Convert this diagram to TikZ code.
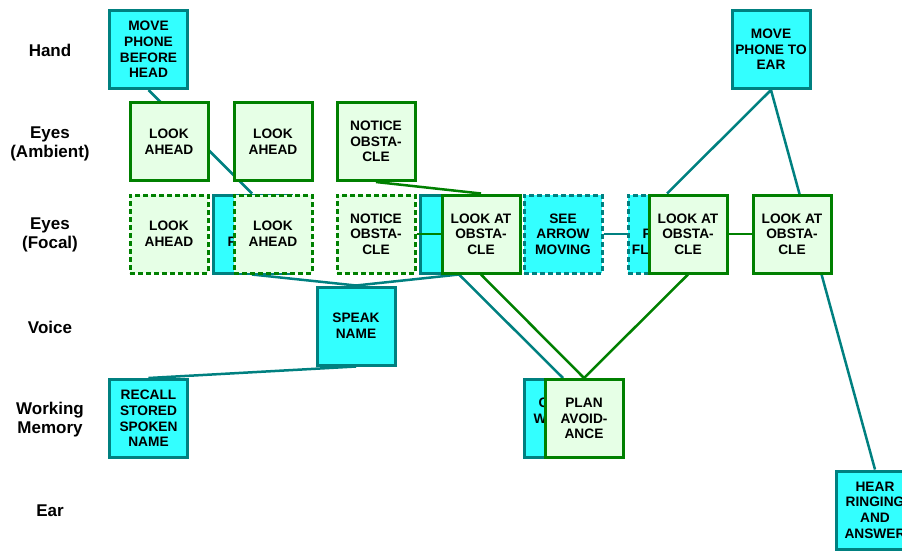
\documentclass[tikz,border=0pt]{standalone}
\usepackage{fontspec}
\setmainfont{Liberation Sans}
\usetikzlibrary{backgrounds}
\definecolor{opcyan}{RGB}{51,255,255}
\definecolor{opteal}{RGB}{0,128,128}
\definecolor{opgreen}{RGB}{0,128,0}
\definecolor{oppale}{RGB}{230,255,230}

\begin{document}
\begin{tikzpicture}[x=1pt, y=-1pt,
    op/.style={draw, line width=3pt, minimum width=78pt, minimum height=78pt,
      inner sep=1pt, align=center, font=\bfseries\fontsize{13.7}{15.6}\selectfont},
    motor/.style={op, draw=opteal, fill=opcyan},
    percept/.style={op, draw=opgreen, fill=oppale},
    slack/.style={dash pattern=on 5pt off 3pt},
    row/.style={align=center, font=\bfseries\fontsize{17}{19}\selectfont},
    tealline/.style={draw=opteal, line width=2.5pt},
    greenline/.style={draw=opgreen, line width=2.5pt}]
    \clip (0,0) rectangle (902,550);

    % Row labels
    \node[row] (lhand) at (50,50) {Hand};
    \node[row] (lamb) at (50,144) {Eyes\\(Ambient)};
    \node[row] (lfoc) at (50,235) {Eyes\\(Focal)};
    \node[row] (lvoice) at (50,327) {Voice};
    \node[row] (lmem) at (50,420) {Working\\Memory};
    \node[row] (lear) at (50,511) {Ear};

    % Hand
    \node[motor] (hand1) at (148.5,49.5) {MOVE\\PHONE\\BEFORE\\HEAD};
    \node[motor] (hand2) at (771,49.5) {MOVE\\PHONE TO\\EAR};

    % Eyes (ambient)
    \node[percept] (amb1) at (169,141.5) {LOOK\\AHEAD};
    \node[percept] (amb2) at (273,141.5) {LOOK\\AHEAD};
    \node[percept] (amb3) at (376,141.5) {NOTICE\\OBSTA-\\CLE};

    % Eyes (focal)
    \node[percept, slack] (foc1) at (169,234) {LOOK\\AHEAD};
    \node[motor] (seephone) at (252,234) {SEE\\PHONE};
    \node[percept, slack] (foc2) at (273,234) {LOOK\\AHEAD};
    \node[percept, slack] (foc3) at (376,234) {NOTICE\\OBSTA-\\CLE};
    \node[motor] (seename) at (459,234) {};
    \node[percept] (obst1) at (481,234) {LOOK AT\\OBSTA-\\CLE};
    \node[motor, slack] (arrow) at (563,234) {SEE\\ARROW\\MOVING};
    \node[motor, slack] (flash) at (667,234) {SEE\\PHONE\\FLASHING};
    \node[percept] (obst2) at (688,234) {LOOK AT\\OBSTA-\\CLE};
    \node[percept] (obst3) at (792,234) {LOOK AT\\OBSTA-\\CLE};

    % Voice
    \node[motor] (speak) at (356,326) {SPEAK\\NAME};

    % Working memory
    \node[motor] (recall) at (148.5,418.5) {RECALL\\STORED\\SPOKEN\\NAME};
    \node[motor] (check) at (563,418.5) {CHECK\\WAITING\\CALL};
    \node[percept] (plan) at (584,418.5) {PLAN\\AVOID-\\ANCE};

    % Ear
    \node[motor] (hear) at (875,510) {HEAR\\RINGING\\AND\\ANSWER};

    % Dependencies
    \begin{scope}[on background layer]
      \draw[tealline] (hand1.south) -- (seephone.north);
      \draw[tealline] (seephone.south) -- (speak.north) -- (seename.south);
      \draw[tealline] (speak.south) -- (recall.north);
      \draw[tealline] (seename.south) -- (check.north);
      \draw[greenline] (amb3.south) -- (obst1.north);
      \draw[greenline] (obst1.south) -- (plan.north) -- (obst2.south);
      \draw[tealline] (arrow.east) -- (flash.west);
      \draw[greenline] (obst2.east) -- (obst3.west);
      \draw[tealline] (flash.north) -- (hand2.south) -- (hear.north);
    \end{scope}
    \draw[greenline] (foc3.east) -- (obst1.west);
\end{tikzpicture}
\end{document}
